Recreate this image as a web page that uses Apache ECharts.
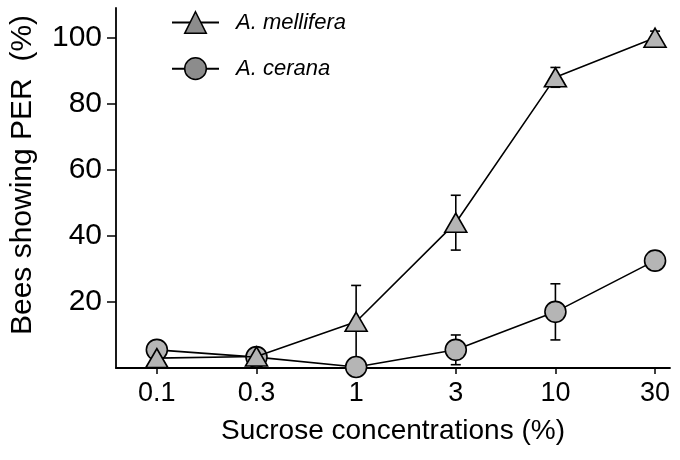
<!DOCTYPE html>
<html><head><meta charset="utf-8">
<script src="https://cdn.jsdelivr.net/npm/echarts@6/dist/echarts.min.js"></script>
<style>html,body{margin:0;padding:0;background:#fff}#c{width:680px;height:460px}</style>
</head><body><div id="c"></div>
<script>
var categories = ['0.1', '0.3', '1', '3', '10', '30'];
var melliferaMean = [3, 3.5, 14, 44, 88, 100];
var melliferaErr  = [1, 1, 11, 8.3, 3, 2];
var ceranaMean = [5.5, 3.3, 0.3, 5.5, 17, 32.5];
var ceranaErr  = [2.7, 1, 1, 4.5, 8.5, 2];
var yTicks = [20, 40, 60, 80, 100];

var FONT = '"Liberation Sans", Arial, sans-serif';
var FILL = '#b5b5b5';

function pts(arr){ return arr.map(function(v,i){ return [i, v]; }); }
function errData(m, e){ return m.map(function(v,i){ return [i, v - e[i], v + e[i]]; }); }
function renderErr(params, api){
  var x = api.value(0);
  var lo = api.coord([x, api.value(1)]);
  var hi = api.coord([x, api.value(2)]);
  var w = 5;
  var st = {stroke:'#000', lineWidth:1.6};
  return {type:'group', children:[
    {type:'line', shape:{x1:lo[0], y1:lo[1], x2:hi[0], y2:hi[1]}, style:st},
    {type:'line', shape:{x1:hi[0]-w, y1:hi[1], x2:hi[0]+w, y2:hi[1]}, style:st},
    {type:'line', shape:{x1:lo[0]-w, y1:lo[1], x2:lo[0]+w, y2:lo[1]}, style:st}
  ]};
}

var chart = echarts.init(document.getElementById('c'), null, {renderer:'canvas'});
chart.setOption({
  animation:false,
  grid:{left:114, right:10, top:8, bottom:92},
  legend:{
    orient:'vertical', left:166, top:6, itemWidth:47, itemHeight:27, itemGap:23,
    textStyle:{fontFamily:FONT, fontSize:22, fontStyle:'italic', color:'#000', padding:[0,0,0,12]},
    data:[
      {name:'A. mellifera', itemStyle:{color:'#8c8c8c', borderColor:'#000', borderWidth:1.5}},
      {name:'A. cerana', itemStyle:{color:'#8c8c8c', borderColor:'#000', borderWidth:1.5}}
    ]
  },
  xAxis:{
    type:'value', min:-0.41, max:5.15,
    axisLine:{lineStyle:{color:'#000', width:1.8}},
    axisTick:{show:true, length:6, lineStyle:{color:'#000', width:1.5}, customValues:[0,1,2,3,4,5]},
    axisLabel:{customValues:[0,1,2,3,4,5], margin:12, fontFamily:FONT, fontSize:27, color:'#000',
      formatter:function(v){ return categories[Math.round(v)]; }},
    splitLine:{show:false},
    name:'Sucrose concentrations (%)', nameLocation:'middle', nameGap:49,
    nameTextStyle:{fontFamily:FONT, fontSize:28, color:'#000'}
  },
  yAxis:{
    type:'value', min:0, max:109,
    axisLine:{show:true, onZero:false, lineStyle:{color:'#000', width:1.8}},
    axisTick:{show:true, length:9, lineStyle:{color:'#000', width:1.5}, customValues:yTicks},
    axisLabel:{customValues:yTicks, margin:14, fontFamily:FONT, fontSize:30, color:'#000'},
    splitLine:{show:false},
    name:'Bees showing PER  (%)', nameLocation:'middle', nameGap:78,
    nameTextStyle:{fontFamily:FONT, fontSize:30, color:'#000', padding:[0,0,0,26]}
  },
  series:[
    {type:'custom', name:'errM', renderItem:renderErr, data:errData(melliferaMean, melliferaErr), z:1, silent:true},
    {type:'custom', name:'errC', renderItem:renderErr, data:errData(ceranaMean, ceranaErr), z:1, silent:true},
    {type:'line', name:'A. cerana', data:pts(ceranaMean), z:3,
      symbol:'circle', symbolSize:21,
      lineStyle:{color:'#000', width:1.6},
      itemStyle:{color:FILL, borderColor:'#000', borderWidth:1.6}},
    {type:'line', name:'A. mellifera', data:pts(melliferaMean), z:4,
      symbol:'triangle', symbolSize:[22,19],
      lineStyle:{color:'#000', width:1.6},
      itemStyle:{color:FILL, borderColor:'#000', borderWidth:1.6}}
  ]
});
</script></body></html>
